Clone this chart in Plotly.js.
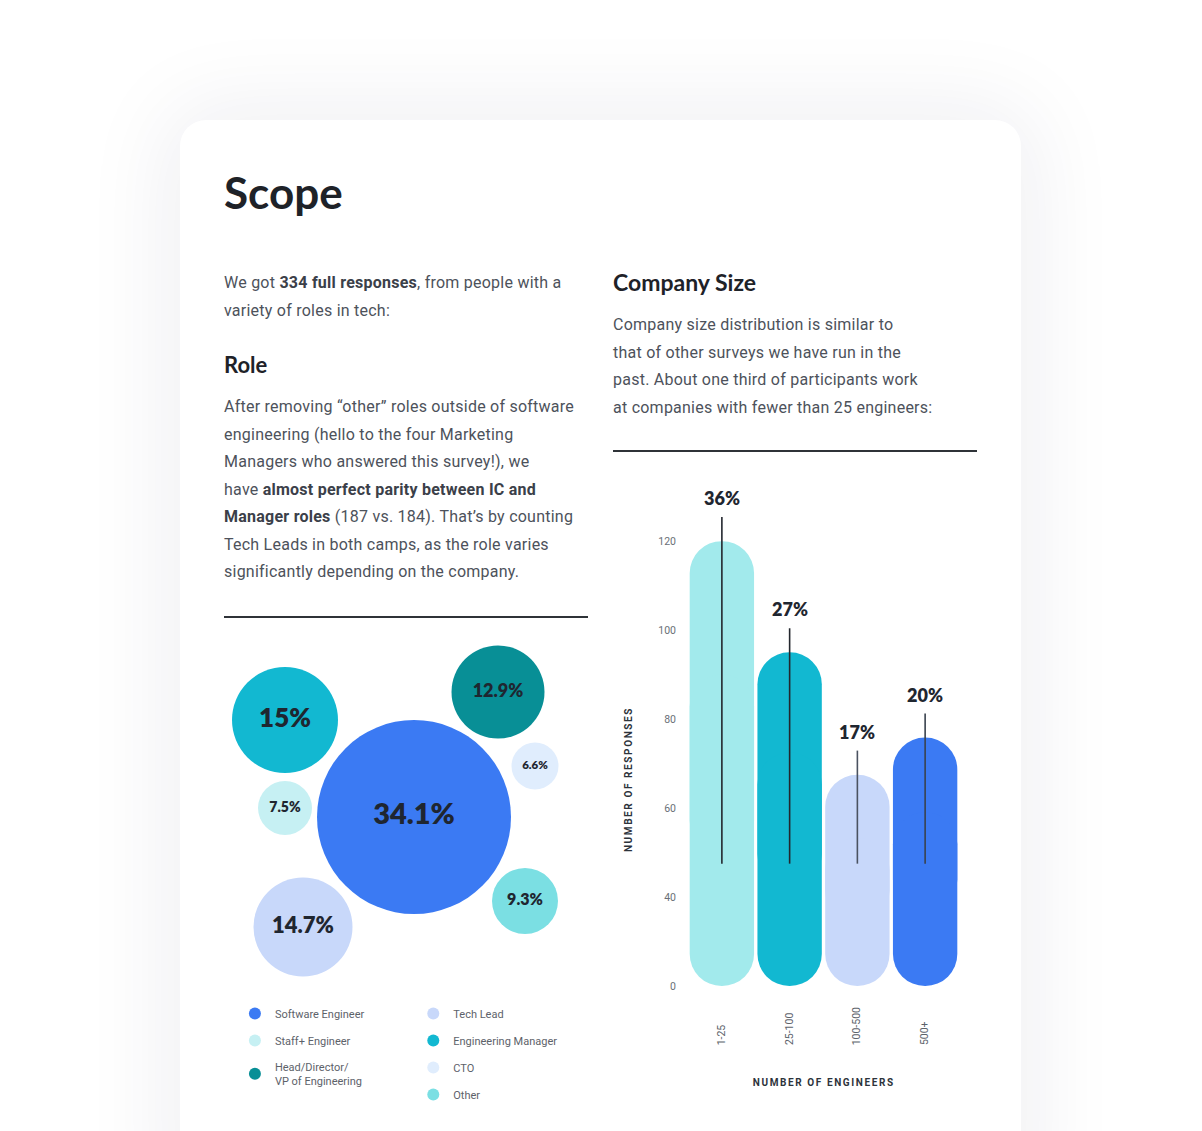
<!DOCTYPE html>
<html>
<head>
<meta charset="utf-8">
<script src="https://cdn.plot.ly/plotly-3.0.1.min.js"></script>
<style>
html, body { margin: 0; padding: 0; background: #fff; }
body { width: 1202px; height: 1131px; overflow: hidden; position: relative; font-family: Roboto, sans-serif; }
.card { position: absolute; left: 180px; top: 120px; width: 841px; height: 1100px; background: #fff;
        border-radius: 26px; box-shadow: 0 0 90px 12px rgba(25, 35, 70, 0.07); }
.abs { position: absolute; margin: 0; }
h1, h2 { font-family: Lato, sans-serif; font-weight: 700; color: #1e2228; line-height: 1; }
h1 { font-size: 44px; }
h2 { font-size: 22px; }
p { font-size: 16px; line-height: 27.5px; color: #4d525b; white-space: nowrap; letter-spacing: 0.24px; }
p b { color: #3b4049; }
.rule { height: 2px; width: 364px; background: #2f3338; }
#bars .annotation[data-index="0"] text,
#bars .annotation[data-index="1"] text { letter-spacing: 1.6px; }
</style>
</head>
<body>
<div class="card"></div>

<h1 class="abs" style="left:224px; top:170px;">Scope</h1>

<p class="abs" style="left:224px; top:269px;">We got <b>334 full responses</b>, from people with a<br>variety of roles in tech:</p>

<h2 class="abs" style="left:224px; top:354px;">Role</h2>
<p class="abs" style="left:224px; top:393px;">After removing “other” roles outside of software<br>engineering (hello to the four Marketing<br>Managers who answered this survey!), we<br>have <b>almost perfect parity between IC and<br>Manager roles</b> (187 vs. 184). That’s by counting<br>Tech Leads in both camps, as the role varies<br>significantly depending on the company.</p>
<div class="abs rule" style="left:224px; top:616px;"></div>

<h2 class="abs" style="left:613px; top:271px; font-size:23px;">Company Size</h2>
<p class="abs" style="left:613px; top:311px;">Company size distribution is similar to<br>that of other surveys we have run in the<br>past. About one third of participants work<br>at companies with fewer than 25 engineers:</p>
<div class="abs rule" style="left:613px; top:450px;"></div>

<div id="bubbles" class="abs" style="left:224px; top:640px; width:364px; height:480px;"></div>
<div id="bars" class="abs" style="left:613px; top:450px; width:364px; height:650px;"></div>

<script>
// --- Role split (bubbles) ---
var roles = ['Software Engineer', 'Staff+ Engineer', 'Head/Director/<br>VP of Engineering',
             'Tech Lead', 'Engineering Manager', 'CTO', 'Other'];
var roleShare = [34.1, 7.5, 12.9, 14.7, 15, 6.6, 9.3];

// bubble pack layout (page pixels) and bubble diameters
var packX = [414, 285, 498, 303, 285, 535, 525];
var packY = [817, 808, 692, 927, 720, 766, 901];
var packDiam = [194, 54, 93, 99, 106, 47, 66];
var labelSize = [29, 14, 18, 22, 26, 11.5, 16];
var roleColors = ['#3b7af3', '#c6f0f3', '#088f96', '#c8d8fa', '#12b8d1', '#e0edfd', '#7bdfe3'];
var roleLegend = ['legend', 'legend', 'legend', 'legend2', 'legend2', 'legend2', 'legend2'];

var bubbleTraces = roles.map(function (r, i) {
  return {
    type: 'scatter',
    mode: 'markers+text',
    name: r,
    legend: roleLegend[i],
    legendgroup: 'g' + i,
    x: [packX[i]],
    y: [packY[i]],
    text: [roleShare[i] + '%'],
    textposition: 'middle center',
    textfont: { family: 'Lato, sans-serif', weight: 800, size: labelSize[i], color: '#1f2630' },
    marker: { size: [packDiam[i]], sizemode: 'diameter', sizeref: 1, color: roleColors[i], line: { width: 0 }, opacity: 1 },
    cliponaxis: false,
    hoverinfo: 'skip'
  };
});

var legendStyle = {
  font: { family: 'Roboto, sans-serif', size: 11, color: '#5d626a' },
  bgcolor: 'rgba(0,0,0,0)',
  itemsizing: 'constant',
  tracegroupgap: 8,
  xanchor: 'left',
  yanchor: 'top'
};

Plotly.newPlot('bubbles', bubbleTraces, {
  width: 364, height: 480,
  margin: { l: 0, r: 0, t: 0, b: 0 },
  paper_bgcolor: 'rgba(0,0,0,0)',
  plot_bgcolor: 'rgba(0,0,0,0)',
  xaxis: { range: [224, 588], visible: false, fixedrange: true },
  yaxis: { range: [1120, 640], visible: false, fixedrange: true },
  showlegend: true,
  legend: Object.assign({}, legendStyle, { x: 0.03, y: 0.252 }),
  legend2: Object.assign({}, legendStyle, { x: 0.52, y: 0.252 })
}, { displayModeBar: false, staticPlot: true });

// --- Company size (bars) ---
var sizeCats = ['1-25', '25-100', '100-500', '500+'];
var sizeCounts = [120, 90, 57, 67];
var sizeShare = ['36%', '27%', '17%', '20%'];
var tickVals = [0, 24, 48, 72, 96, 120];
var tickText = ['0', '40', '60', '80', '100', '120'];

var sizeColors = ['#a2eaec', '#12b8d1', '#c8d8fa', '#3b7af3'];
var stemColors = ['#23272e', '#23272e', '#4a5260', '#3a424e'];
var stemBottom = 33, stemOver = 6.5;

// each pill = an upper piece rounded at the top + a lower piece rounded at the bottom,
// overlapping widely in the middle so inner ends stay hidden
var upper = {
  type: 'bar', x: sizeCats,
  base: sizeCounts.map(function (v) { return v * 0.3; }),
  y: sizeCounts.map(function (v) { return v * 0.7; }),
  width: 0.95,
  marker: { color: sizeColors, cornerradius: '50%', line: { width: 0 } },
  hoverinfo: 'skip', showlegend: false
};
var lower = {
  type: 'bar', x: sizeCats,
  base: sizeCounts.map(function (v) { return v * 0.7; }),
  y: sizeCounts.map(function (v) { return -v * 0.7; }),
  width: 0.95,
  marker: { color: sizeColors, cornerradius: '50%', line: { width: 0 } },
  hoverinfo: 'skip', showlegend: false
};

var stems = sizeCats.map(function (c, i) {
  return { type: 'line', xref: 'x', yref: 'y', x0: i, x1: i, y0: stemBottom, y1: sizeCounts[i] + stemOver,
           line: { color: stemColors[i], width: 1.6 }, layer: 'above' };
});

var anns = [
  { text: '<b>NUMBER OF RESPONSES</b>', xref: 'paper', yref: 'y', x: -0.2177, y: 55.6, textangle: -90,
    showarrow: false, xanchor: 'center', yanchor: 'middle',
    font: { family: 'Roboto, sans-serif', size: 10, color: '#2d333b' } },
  { text: '<b>NUMBER OF ENGINEERS</b>', xref: 'paper', yref: 'paper', x: 0.5, y: -0.185,
    showarrow: false, xanchor: 'center', yanchor: 'middle',
    font: { family: 'Roboto, sans-serif', size: 10, color: '#2d333b' } }
];
sizeCats.forEach(function (c, i) {
  anns.push({ text: sizeShare[i], xref: 'x', yref: 'y', x: i, y: sizeCounts[i] + stemOver,
              showarrow: false, xanchor: 'center', yanchor: 'bottom', yshift: 6,
              font: { family: 'Lato, sans-serif', weight: 800, size: 18, color: '#1f2630' } });
  anns.push({ text: c, xref: 'x', yref: 'paper', x: i, y: -0.1175, textangle: -90,
              showarrow: false, xanchor: 'center', yanchor: 'bottom',
              font: { family: 'Roboto, sans-serif', size: 10.5, color: '#5d636b' } });
});

Plotly.newPlot('bars', [upper, lower], {
  width: 364, height: 650,
  margin: { l: 75, r: 18, t: 17, b: 114 },
  paper_bgcolor: 'rgba(0,0,0,0)',
  plot_bgcolor: 'rgba(0,0,0,0)',
  barmode: 'overlay',
  showlegend: false,
  xaxis: { range: [-0.5, 3.5], showticklabels: false, showgrid: false, zeroline: false, showline: false, ticks: '', fixedrange: true },
  yaxis: { range: [0, 140], tickvals: tickVals, ticktext: tickText, showgrid: false, zeroline: false, showline: false,
           ticks: '', ticklabelstandoff: 11, fixedrange: true,
           tickfont: { family: 'Roboto, sans-serif', size: 10.5, color: '#6a6f77' } },
  shapes: stems,
  annotations: anns
}, { displayModeBar: false, staticPlot: true });
</script>
</body>
</html>
